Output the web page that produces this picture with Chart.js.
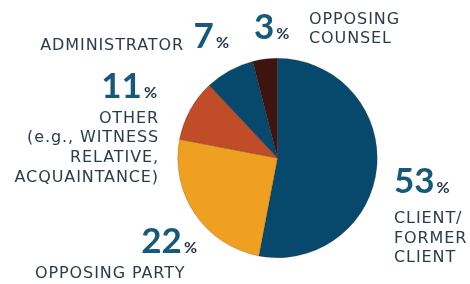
<!DOCTYPE html>
<html>
<head>
<meta charset="utf-8">
<script src="https://cdn.jsdelivr.net/npm/chart.js@4"></script>
<style>
  html, body { margin: 0; padding: 0; background: #fff; }
  #grafico { display: block; }
</style>
</head>
<body>
<canvas id="grafico" width="470" height="284"></canvas>
<script>
// categorias e valores
const categorias = ['Client/Former Client', 'Opposing Party', 'Other', 'Administrator', 'Opposing Counsel'];
const fatias = [53, 25, 10, 8, 4];          // tamanho das fatias como desenhadas
const percentuais = [53, 22, 11, 7, 3];     // numeros impressos
const rotulos = [
  ['CLIENT/', 'FORMER', 'CLIENT'],
  ['OPPOSING PARTY'],
  ['OTHER', '(e.g., WITNESS', 'RELATIVE,', 'ACQUAINTANCE)'],
  ['ADMINISTRATOR'],
  ['OPPOSING', 'COUNSEL']
];
const cores = ['#07486d', '#f0a020', '#c04c28', '#07486d', '#3d1410'];

const FONTE_NUM = 'Lato, "Open Sans", sans-serif';
const FONTE_TXT = '"DejaVu Sans", sans-serif';
const COR_NUM = '#17597a';
const COR_TXT = '#2a3c4c';

// desenha "NN%" : numero grande + % pequeno
function desenhaPct(ctx, num, x, y, alinhar) {
  ctx.letterSpacing = '0px';
  ctx.font = 'bold 35px ' + FONTE_NUM;
  const wn = ctx.measureText(String(num)).width;
  ctx.font = 'bold 16px ' + FONTE_NUM;
  const wp = ctx.measureText('%').width;
  const gap = 2;
  let x0 = alinhar === 'right' ? x - (wn + gap + wp) : x;
  ctx.textAlign = 'left';
  ctx.fillStyle = COR_NUM;
  ctx.font = 'bold 35px ' + FONTE_NUM;
  ctx.fillText(String(num), x0, y);
  ctx.fillStyle = '#1d3344';
  ctx.font = 'bold 16px ' + FONTE_NUM;
  ctx.fillText('%', x0 + wn + gap, y);
}

function desenhaLinhas(ctx, linhas, x, y, alinhar, passo) {
  ctx.font = '16px ' + FONTE_TXT;
  ctx.letterSpacing = '0.9px';
  ctx.fillStyle = COR_TXT;
  ctx.textAlign = alinhar;
  const dx = alinhar === 'right' ? 1 : 0;
  linhas.forEach((l, i) => ctx.fillText(l, x + dx, y + i * passo));
  ctx.letterSpacing = '0px';
}

const rotulosPlugin = {
  id: 'rotulos',
  afterDraw(chart) {
    const ctx = chart.ctx;
    ctx.save();
    ctx.textBaseline = 'alphabetic';
    // client
    desenhaPct(ctx, percentuais[0], 394, 193, 'left');
    desenhaLinhas(ctx, rotulos[0], 394, 223, 'left', 19.7);
    // opposing party
    desenhaPct(ctx, percentuais[1], 197, 253, 'right');
    desenhaLinhas(ctx, rotulos[1], 35, 278, 'left', 19.7);
    // other
    desenhaPct(ctx, percentuais[2], 157, 98, 'right');
    desenhaLinhas(ctx, rotulos[2], 158, 122.5, 'right', 19.7);
    // administrator
    desenhaPct(ctx, percentuais[3], 229, 48, 'right');
    desenhaLinhas(ctx, rotulos[3], 183, 50, 'right', 19.7);
    // opposing counsel
    desenhaPct(ctx, percentuais[4], 254, 39, 'left');
    desenhaLinhas(ctx, rotulos[4], 309, 24, 'left', 19.2);
    ctx.restore();
  }
};

new Chart(document.getElementById('grafico'), {
  type: 'pie',
  data: {
    labels: categorias,
    datasets: [{
      data: fatias,
      backgroundColor: cores,
      borderColor: 'rgba(40,20,10,0.35)',
      borderWidth: 0.6
    }]
  },
  options: {
    responsive: false,
    animation: false,
    layout: { padding: { left: 177, right: 92, top: 58, bottom: 26 } },
    plugins: {
      legend: { display: false },
      tooltip: { enabled: false }
    }
  },
  plugins: [rotulosPlugin]
});
</script>
</body>
</html>
